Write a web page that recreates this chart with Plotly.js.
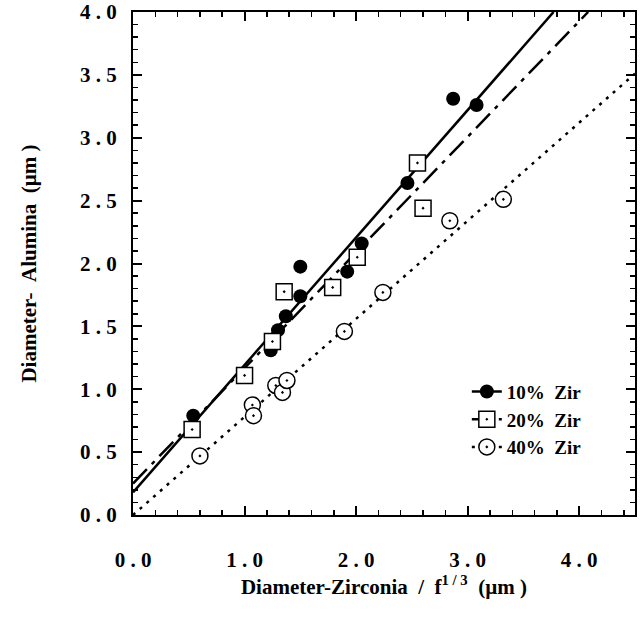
<!DOCTYPE html>
<html><head><meta charset="utf-8">
<script src="https://cdn.plot.ly/plotly-3.0.1.min.js"></script>
<style>html,body{margin:0;padding:0;background:#fff}</style>
</head><body><div id="chart" style="width:640px;height:624px"></div>
<script>
// measured data points
const zir10X = [0.54, 1.235, 1.30, 1.37, 1.50, 1.50, 1.92, 2.05, 2.46, 2.87, 3.08];
const zir10Y = [0.79, 1.31, 1.47, 1.58, 1.74, 1.975, 1.935, 2.16, 2.64, 3.31, 3.26];
const zir20X = [0.53, 1.00, 1.25, 1.355, 1.79, 2.01, 2.55, 2.60];
const zir20Y = [0.68, 1.11, 1.38, 1.776, 1.81, 2.05, 2.80, 2.44];
const zir40X = [0.60, 1.07, 1.08, 1.28, 1.34, 1.38, 1.895, 2.24, 2.84, 3.32];
const zir40Y = [0.47, 0.875, 0.79, 1.03, 0.975, 1.07, 1.46, 1.77, 2.34, 2.51];
// fitted lines (end points)
const fit10X = [0, 3.77];
const fit10Y = [0.18, 4.0];
const fit20X = [0, 4.08];
const fit20Y = [0.25, 4.0];
const fit40X = [0, 4.5];
const fit40Y = [0.0, 3.51];
// tick labels
const xTickVals = [0, 1, 2, 3, 4];
const xTickText = ['0\u00a0.\u00a00', '1\u00a0.\u00a00', '2\u00a0.\u00a00', '3\u00a0.\u00a00', '4\u00a0.\u00a00'];
const yTickVals = [0, 0.5, 1, 1.5, 2, 2.5, 3, 3.5, 4];
const yTickText = ['0\u00a0.\u00a00', '0\u00a0.\u00a05', '1\u00a0.\u00a00', '1\u00a0.\u00a05', '2\u00a0.\u00a00',
                   '2\u00a0.\u00a05', '3\u00a0.\u00a00', '3\u00a0.\u00a05', '4\u00a0.\u00a00'];
const seriesNames = ['10%\u00a0\u00a0Zir', '20%\u00a0\u00a0Zir', '40%\u00a0\u00a0Zir'];

const FONT = 'Liberation Serif, Times New Roman, serif';
const m10 = {symbol: 'circle', size: 14, color: 'black', line: {width: 0}};
const m20 = {symbol: 'square-dot', size: 16, color: 'white', line: {width: 1.5, color: 'black'}};
const m40 = {symbol: 'circle-dot', size: 16, color: 'white', line: {width: 1.5, color: 'black'}};

const traces = [
  {x: fit10X, y: fit10Y, mode: 'lines+markers', name: seriesNames[0], legendgroup: 'a',
   line: {color: 'black', width: 2.5}, marker: m10, selectedpoints: [], unselected: {marker: {opacity: 0}}, hoverinfo: 'skip'},
  {x: fit20X, y: fit20Y, mode: 'lines+markers', name: seriesNames[1], legendgroup: 'b',
   line: {color: 'black', width: 2.5, dash: '20px,7px,4px,7px'}, marker: m20, selectedpoints: [], unselected: {marker: {opacity: 0}}, hoverinfo: 'skip'},
  {x: fit40X, y: fit40Y, mode: 'lines+markers', name: seriesNames[2], legendgroup: 'c',
   line: {color: 'black', width: 2.5, dash: '3px,6px'}, marker: m40, selectedpoints: [], unselected: {marker: {opacity: 0}}, hoverinfo: 'skip'},
  {x: zir10X, y: zir10Y, mode: 'markers', showlegend: false, legendgroup: 'a', marker: m10},
  {x: zir40X, y: zir40Y, mode: 'markers', showlegend: false, legendgroup: 'c', marker: m40},
  {x: zir20X, y: zir20Y, mode: 'markers', showlegend: false, legendgroup: 'b', marker: m20}
];

const axisCommon = {
  showgrid: false, zeroline: false, showline: true, linewidth: 2, linecolor: 'black',
  mirror: 'allticks', ticks: 'inside', tickwidth: 2, tickcolor: 'black', ticklen: 9,
  tickfont: {family: FONT, size: 21, color: 'black', weight: 'bold'}
};

const layout = {
  width: 640, height: 624,
  margin: {l: 133, r: 5, t: 12, b: 109},
  paper_bgcolor: 'white', plot_bgcolor: 'white',
  showlegend: true,
  xaxis: Object.assign({}, axisCommon, {
    range: [0, 4.5], tickmode: 'array', tickvals: xTickVals, ticktext: xTickText,
    ticklabelstandoff: 25,
    minor: {dtick: 0.2, ticks: 'inside', ticklen: 5, tickwidth: 1.5, tickcolor: 'black', showgrid: false},
    title: {text: 'Diameter-Zirconia\u00a0\u00a0/\u00a0\u00a0f<sup>1 / 3</sup>\u00a0\u00a0(\u00b5m )', standoff: 0,
            font: {family: FONT, size: 21, color: 'black', weight: 'bold'}}
  }),
  yaxis: Object.assign({}, axisCommon, {
    range: [0, 4], tickmode: 'array', tickvals: yTickVals, ticktext: yTickText,
    ticklabelstandoff: 10,
    minor: {dtick: 0.1, ticks: 'inside', ticklen: 5, tickwidth: 1.5, tickcolor: 'black', showgrid: false},
    title: {text: 'Diameter-\u00a0\u00a0Alumina\u00a0\u00a0(\u00b5m )', standoff: 38,
            font: {family: FONT, size: 21, color: 'black', weight: 'bold'}}
  }),
  legend: {
    x: 0.665, y: 0.283, xanchor: 'left', yanchor: 'top',
    bgcolor: 'rgba(0,0,0,0)', borderwidth: 0,
    traceorder: 'grouped', tracegroupgap: 0,
    font: {family: FONT, size: 19, color: 'black', weight: 'bold'}
  }
};

Plotly.newPlot('chart', traces, layout, {displayModeBar: false, staticPlot: true});
</script>
</body></html>
